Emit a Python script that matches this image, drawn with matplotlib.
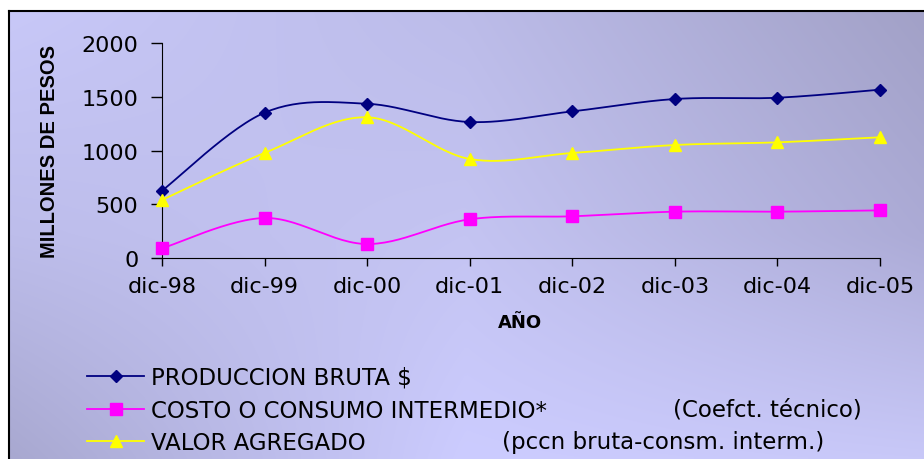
import numpy as np
import matplotlib
matplotlib.use("Agg")
import matplotlib.pyplot as plt
from matplotlib.lines import Line2D

# datos (millones de pesos)
anios = ["dic-98", "dic-99", "dic-00", "dic-01", "dic-02", "dic-03", "dic-04", "dic-05"]
produccion = [626, 1352, 1435, 1265, 1364, 1479, 1491, 1566]
costo = [90, 372, 130, 360, 388, 431, 431, 443]
valor = [540, 977, 1309, 921, 977, 1051, 1076, 1123]

y_ticks = [0, 500, 1000, 1500, 2000]

W, H = 924, 460


def suave(xs, ys, n=30):
    # curva suavizada tipo excel (bezier con tangentes catmull-rom)
    xs = np.asarray(xs, float)
    ys = np.asarray(ys, float)
    px = np.concatenate([[xs[0]], xs, [xs[-1]]])
    py = np.concatenate([[ys[0]], ys, [ys[-1]]])
    out_x, out_y = [], []
    t = np.linspace(0, 1, n)
    for i in range(1, len(px) - 2):
        p0x, p1x, p2x, p3x = px[i - 1], px[i], px[i + 1], px[i + 2]
        p0y, p1y, p2y, p3y = py[i - 1], py[i], py[i + 1], py[i + 2]
        c1x, c1y = p1x + (p2x - p0x) / 6, p1y + (p2y - p0y) / 6
        c2x, c2y = p2x - (p3x - p1x) / 6, p2y - (p3y - p1y) / 6
        bx = (1-t)**3*p1x + 3*(1-t)**2*t*c1x + 3*(1-t)*t**2*c2x + t**3*p2x
        by = (1-t)**3*p1y + 3*(1-t)**2*t*c1y + 3*(1-t)*t**2*c2y + t**3*p2y
        out_x.extend(bx)
        out_y.extend(by)
    return out_x, out_y


def hexrgb(h):
    return [int(h[i:i + 2], 16) / 255 for i in (1, 3, 5)]


plt.rcParams['font.family'] = ['DejaVu Sans']

fig = plt.figure(figsize=(W / 100, H / 100), dpi=100)
fig.patch.set_facecolor("white")

# fondo degradado (colores muestreados, arriba -> abajo, izq -> der)
grid = np.array([
    [hexrgb("#c8c8f8"), hexrgb("#bcbce9"), hexrgb("#a2a1c7")],
    [hexrgb("#bdbdeb"), hexrgb("#c4c4f2"), hexrgb("#acabd6")],
    [hexrgb("#a8a8d0"), hexrgb("#ccccff"), hexrgb("#c8c8f8")],
])
gx = np.linspace(0, 2, 300)
gy = np.linspace(0, 2, 150)
ix = np.clip(gx.astype(int), 0, 1)
iy = np.clip(gy.astype(int), 0, 1)
fx = (gx - ix)[None, :, None]
fy = (gy - iy)[:, None, None]
c00 = grid[iy][:, ix]
c01 = grid[iy][:, ix + 1]
c10 = grid[iy + 1][:, ix]
c11 = grid[iy + 1][:, ix + 1]
img = (c00 * (1 - fx) * (1 - fy) + c01 * fx * (1 - fy)
       + c10 * (1 - fx) * fy + c11 * fx * fy)
bg = fig.add_axes([8 / W, 0, 1 - 8 / W, (H - 12) / H])
bg.imshow(img, aspect="auto", extent=[0, 1, 0, 1], interpolation="bilinear")
bg.set_axis_off()

# borde del area del grafico
fig.add_artist(Line2D([8.5 / W, 8.5 / W], [0, (H - 11.5) / H], color="black", lw=1.5))
fig.add_artist(Line2D([8.5 / W, 1], [(H - 11.5) / H, (H - 11.5) / H], color="black", lw=1.5))

ax = fig.add_axes([162 / W, (H - 259) / H, (880 - 162) / W, (259 - 44) / H])
ax.patch.set_alpha(0)

x = np.arange(len(anios))

series = [
    (produccion, "#000080", "D", 5.8, "PRODUCCION BRUTA $"),
    (costo, "#ff00ff", "s", 8, "COSTO O CONSUMO INTERMEDIO*"),
    (valor, "#ffff00", "^", 9, "VALOR AGREGADO"),
]
handles = []
for vals, col, mk, ms, lab in series:
    sx, sy = suave(x, vals)
    ax.plot(sx, sy, color=col, lw=1.3, clip_on=False)
    ax.plot(x, vals, linestyle="none", marker=mk, ms=ms, color=col,
            markeredgecolor=col, clip_on=False, zorder=3)
    handles.append(Line2D([], [], color=col, lw=1.3, marker=mk, ms=ms,
                          markeredgecolor=col))

ax.set_xlim(0, 7)
ax.set_ylim(0, 2000)
ax.set_xticks(x)
ax.set_xticklabels(anios)
ax.set_yticks(y_ticks)
ax.tick_params(axis="y", length=8, width=1, pad=9, labelsize=16)
ax.tick_params(axis="x", length=6, width=1, pad=7, labelsize=16)
ax.spines["top"].set_visible(False)
ax.spines["right"].set_visible(False)

fig.text(49.5 / W, 1 - 151 / H, "MILLONES DE PESOS", rotation=90,
         ha="center", va="center", fontsize=14.5, fontweight="bold",
         family=["Liberation Sans", "DejaVu Sans"])
fig.text(520 / W, 1 - 323 / H, "AÑO", ha="center", va="center",
         fontsize=13, fontweight="bold")

fig.legend(handles, [sr[4] for sr in series], loc="upper left",
           bbox_to_anchor=(87 / W, 1 - 367 / H), frameon=False,
           fontsize=16.5, handlelength=2.5, handletextpad=0.3,
           labelspacing=0.42, borderpad=0, borderaxespad=0)
fig.text(673 / W, 1 - 410 / H, "(Coefct. técnico)", ha="left", va="center", fontsize=16.5)
fig.text(502 / W, 1 - 443 / H, "(pccn bruta-consm. interm.)", ha="left", va="center", fontsize=16.5)

plt.savefig("out.png", dpi=100)
